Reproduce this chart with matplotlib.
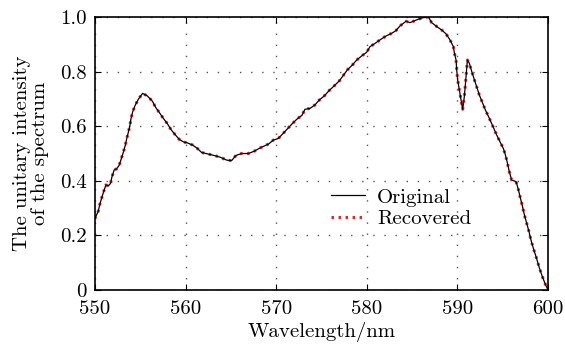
import matplotlib
matplotlib.use("Agg")
import matplotlib.pyplot as plt

plt.rcParams['font.family'] = 'serif'
plt.rcParams['font.serif'] = ['cmr10', 'DejaVu Serif']
plt.rcParams['mathtext.fontset'] = 'cm'
plt.rcParams['axes.formatter.use_mathtext'] = True

wavelength = [550.0, 550.37, 550.55, 550.77, 550.99, 551.21, 551.47, 551.73, 551.88, 552.13,
              552.39, 552.68, 552.9, 553.13, 553.35, 553.5, 553.68, 553.86, 553.97, 554.16,
              554.42, 554.78, 555.26, 555.78, 556.33, 556.7, 557.17, 557.54, 557.98, 558.39,
              558.83, 559.3, 559.79, 560.12, 560.78, 561.29, 561.77, 562.51, 563.25, 563.87,
              564.53, 565.08, 565.56, 566.19, 566.92, 567.55, 568.14, 568.65, 569.17, 569.68,
              570.23, 570.78, 571.26, 571.74, 572.26, 572.85, 573.18, 573.73, 574.28, 574.76,
              575.31, 575.86, 576.38, 576.97, 577.41, 577.85, 578.44, 578.88, 579.43, 579.99,
              580.35, 580.91, 581.46, 582.12, 582.75, 583.22, 583.66, 584.33, 584.77, 585.5,
              586.06, 586.79, 587.16, 587.71, 588.27, 588.74, 589.18, 589.55, 589.66, 589.85,
              589.92, 590.03, 590.21, 590.40, 590.58, 590.76, 590.95, 591.10, 591.32, 591.58,
              591.94, 592.42, 592.86, 593.05, 593.52, 593.96, 594.33, 594.70, 595.06, 595.25,
              595.44, 595.73, 595.99, 596.47, 596.72, 596.91, 597.17, 597.39, 597.65, 597.90,
              598.12, 598.38, 598.68, 599.01, 599.31, 599.67, 600.0]
original = [0.262, 0.289, 0.315, 0.340, 0.363, 0.385, 0.381, 0.391, 0.415, 0.440,
            0.444, 0.457, 0.480, 0.504, 0.530, 0.553, 0.577, 0.602, 0.626, 0.652,
            0.675, 0.698, 0.720, 0.711, 0.692, 0.669, 0.647, 0.629, 0.610, 0.588,
            0.570, 0.552, 0.542, 0.540, 0.531, 0.519, 0.504, 0.498, 0.492, 0.486,
            0.476, 0.474, 0.493, 0.500, 0.500, 0.508, 0.519, 0.527, 0.535, 0.549,
            0.555, 0.574, 0.591, 0.608, 0.625, 0.640, 0.662, 0.665, 0.678, 0.696,
            0.711, 0.731, 0.747, 0.766, 0.786, 0.806, 0.825, 0.842, 0.857, 0.871,
            0.891, 0.903, 0.916, 0.930, 0.940, 0.950, 0.967, 0.984, 0.979, 0.989,
            0.996, 1.0, 0.979, 0.965, 0.952, 0.938, 0.916, 0.891, 0.869, 0.842,
            0.806, 0.769, 0.733, 0.696, 0.662, 0.708, 0.781, 0.842, 0.830, 0.800,
            0.763, 0.714, 0.678, 0.662, 0.629, 0.596, 0.568, 0.543, 0.519, 0.500,
            0.476, 0.433, 0.403, 0.397, 0.369, 0.342, 0.308, 0.275, 0.244, 0.214,
            0.183, 0.153, 0.122, 0.085, 0.055, 0.024, 0.0]
recovered = list(original)

xticks = [550, 560, 570, 580, 590, 600]
yticks = [0, 0.2, 0.4, 0.6, 0.8, 1.0]
ytick_labels = ['0', '0.2', '0.4', '0.6', '0.8', '1.0']

fs = 15

fig = plt.figure(figsize=(5.65, 3.45), dpi=100)
ax = fig.add_axes([0.168, 0.159, 0.802, 0.792])

ax.plot(wavelength, original, color='black', lw=0.9, zorder=3, label='Original')
ax.plot(wavelength, recovered, color='#e8262a', lw=2.2, dashes=(0.8, 1.5), zorder=2,
        label='Recovered')

ax.set_xlim(550, 600)
ax.set_ylim(0, 1.0)
ax.set_xticks(xticks)
ax.set_xticklabels([str(t) for t in xticks])
ax.set_yticks(yticks)
ax.set_yticklabels(ytick_labels)
ax.tick_params(direction='in', top=True, right=True, labelsize=fs, length=4, width=0.8)
ax.tick_params(axis='x', pad=7)
ax.tick_params(axis='y', pad=6)
ax.grid(True, color='#555555', linestyle=(0, (1, 7)), linewidth=1.0)
for s in ax.spines.values():
    s.set_linewidth(1.2)

ax.set_xlabel('Wavelength/nm', fontsize=fs, labelpad=3)
ax.set_ylabel('The unitary intensity\nof the spectrum', fontsize=fs, linespacing=1.0,
              labelpad=8)

leg = ax.legend(loc='center left', bbox_to_anchor=(0.48, 0.30), frameon=False,
                fontsize=fs, handlelength=1.6, handletextpad=0.6, labelspacing=0.15)

fig.savefig('out.png', dpi=100)
